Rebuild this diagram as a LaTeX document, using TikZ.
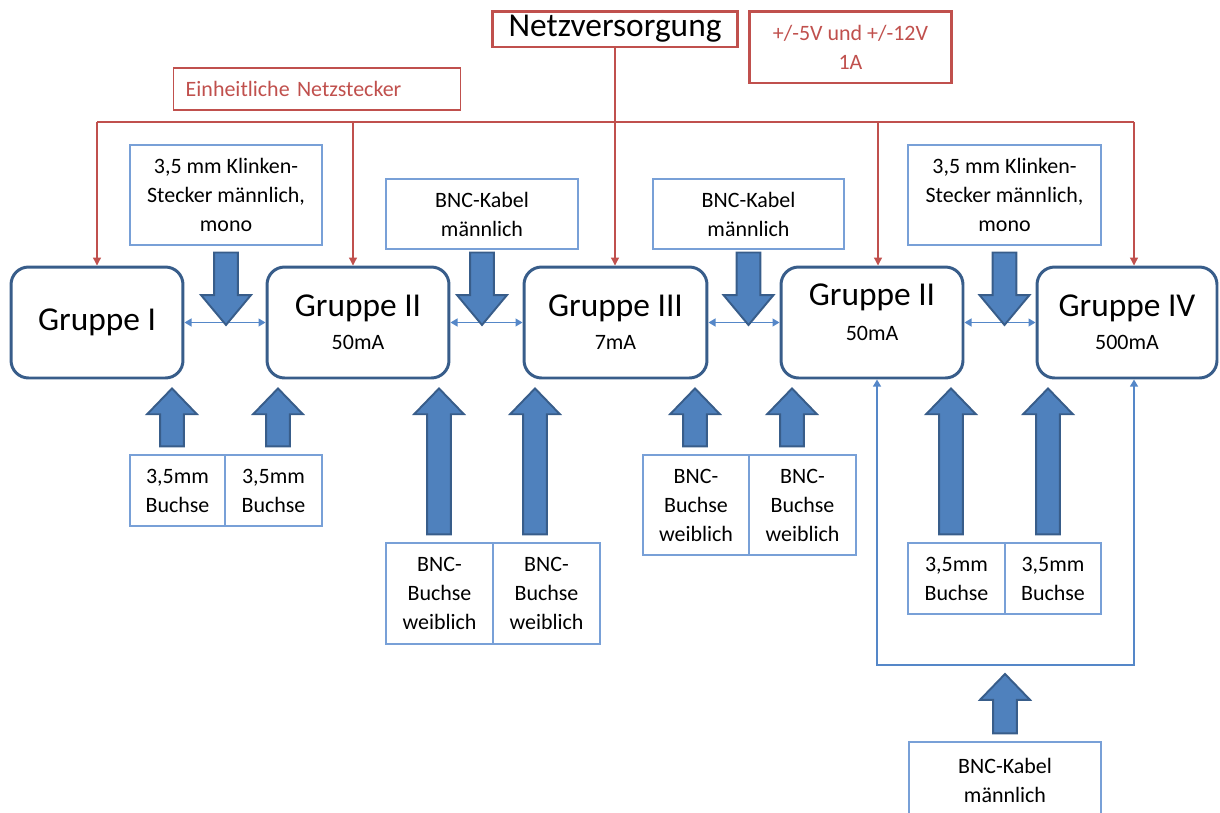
\documentclass[tikz,border=0pt]{standalone}
\usepackage{fontspec}
\setmainfont{Carlito}
\usetikzlibrary{arrows.meta,calc}

\definecolor{grpblue}{RGB}{56,93,138}
\definecolor{arrowblue}{RGB}{79,129,189}
\definecolor{boxblue}{RGB}{120,160,215}
\definecolor{lineblue}{RGB}{85,135,200}
\definecolor{netzred}{RGB}{192,80,77}

\newcommand{\bigfont}{\fontsize{19}{23}\selectfont}
\newcommand{\smallfont}{\fontsize{12.5}{16.5}\selectfont}

\tikzset{
	grp/.style = {draw = grpblue, line width = 1.7pt, rounded corners = 10pt, minimum height = 2.22cm, font = \bigfont, align = center, inner sep = 0pt},
	info/.style = {draw = boxblue, line width = 0.85pt, font = \smallfont, align = center, inner sep = 0pt},
	redbox/.style = {draw = netzred, text = netzred, font = \smallfont, inner sep = 0pt},
	redline/.style = {draw = netzred, line width = 0.7pt, >={Triangle[length = 4.5pt, width = 4.5pt]}},
	blueline/.style = {draw = lineblue, line width = 0.85pt, >={Triangle[length = 4pt, width = 4.5pt]}},
	fatarrow/.style = {fill = arrowblue, draw = grpblue, line width = 1.1pt}
}

\newcommand{\fatup}[3]{%
	\filldraw[fatarrow] let \p1 = #2, \p2 = #3, \p3 = (#1, 0) in
		(\x3 - 6.8pt, \y1 + 4.5pt) -- (\x3 - 6.8pt, \y2 - 19.8pt) -- (\x3 - 14.2pt, \y2 - 19.8pt)
		-- (\x3, \y2 - 5.1pt) -- (\x3 + 14.2pt, \y2 - 19.8pt) -- (\x3 + 6.8pt, \y2 - 19.8pt)
		-- (\x3 + 6.8pt, \y1 + 4.5pt) -- cycle;}

\newcommand{\fatdown}[2]{%
	\filldraw[fatarrow] let \p1 = (#1.south), \p2 = (#2.north), \p3 = (#2.center) in
		(\x1 - 6.8pt, \y2 + 7.4pt) -- (\x1 - 6.8pt, \y3 + 15.6pt) -- (\x1 - 14.2pt, \y3 + 15.6pt)
		-- (\x1, \y3 - 1.4pt) -- (\x1 + 14.2pt, \y3 + 15.6pt) -- (\x1 + 6.8pt, \y3 + 15.6pt)
		-- (\x1 + 6.8pt, \y2 + 7.4pt) -- cycle;}

\begin{document}
\begin{tikzpicture}[x = 0.02cm, y = -0.02cm]
		\useasboundingbox (0, 0) rectangle (1220, 812);
		\clip (0, 0) rectangle (1220, 812);
		
		\node[redbox, line width = 1.7pt, text = black, font = \bigfont, minimum width = 4.92cm, minimum height = 0.72cm] (netz) at (615, 29) {Netzversorgung};
		\node[redbox, line width = 1.7pt, align = center, minimum width = 4.06cm, minimum height = 1.44cm] (volt) at (850.5, 47) {+/-5V und +/-12V\\1A};
		\node[redbox, line width = 0.85pt, anchor = west, align = left, text width = 5.26cm, inner xsep = 0.24cm, minimum height = 0.84cm] (einh) at (173, 89) {Einheitliche Netzstecker};
		
		\node[grp, minimum width = 3.44cm] (g1) at (97, 322.5) {Gruppe I};
		\node[grp, minimum width = 3.64cm] (g2) at (358, 322.5) {Gruppe II\\[-4.3pt]{\smallfont 50mA}};
		\node[grp, minimum width = 3.66cm] (g3) at (615.5, 322.5) {Gruppe III\\[-4.3pt]{\smallfont 7mA}};
		\node[grp, minimum width = 3.64cm] (g4) at (872, 322.5) {};
		\node[font = \bigfont, align = center, inner sep = 0pt] (g4txt) at (872, 312) {Gruppe II\\[-3.2pt]{\smallfont 50mA}};
		\node[grp, minimum width = 3.6cm] (g5) at (1127, 322.5) {Gruppe IV\\[-4.3pt]{\smallfont 500mA}};
		
		\node[info, minimum width = 3.84cm, minimum height = 2cm] (k1) at (226, 195) {3,5 mm Klinken-\\Stecker männlich,\\mono};
		\node[info, minimum width = 3.84cm, minimum height = 1.4cm] (b1) at (482, 214) {BNC-Kabel\\männlich};
		\node[info, minimum width = 3.82cm, minimum height = 1.4cm] (b2) at (748.5, 214) {BNC-Kabel\\männlich};
		\node[info, minimum width = 3.86cm, minimum height = 2cm] (k2) at (1004.5, 195) {3,5 mm Klinken-\\Stecker männlich,\\mono};
		
		\node[info, minimum width = 1.9cm, minimum height = 1.42cm] (s1) at (177.5, 490.5) {3,5mm\\Buchse};
		\node[info, minimum width = 1.94cm, minimum height = 1.42cm] (s2) at (273.5, 490.5) {3,5mm\\Buchse};
		\node[info, minimum width = 2.14cm, minimum height = 2.02cm] (n1) at (439.5, 593.5) {BNC-\\Buchse\\weiblich};
		\node[info, minimum width = 2.14cm, minimum height = 2.02cm] (n2) at (546.5, 593.5) {BNC-\\Buchse\\weiblich};
		\node[info, minimum width = 2.12cm, minimum height = 2cm] (n3) at (696, 505) {BNC-\\Buchse\\weiblich};
		\node[info, minimum width = 2.14cm, minimum height = 2cm] (n4) at (802.5, 505) {BNC-\\Buchse\\weiblich};
		\node[info, minimum width = 1.94cm, minimum height = 1.42cm] (s3) at (956.5, 578.5) {3,5mm\\Buchse};
		\node[info, minimum width = 1.92cm, minimum height = 1.42cm] (s4) at (1053, 578.5) {3,5mm\\Buchse};
		\node[info, minimum width = 3.84cm, minimum height = 1.52cm] (b3) at (1005, 780) {BNC-Kabel\\männlich};
		
		\coordinate (r1) at (97, 122);
		\coordinate (r2) at (353, 122);
		\coordinate (r4) at (878, 122);
		\coordinate (r5) at (1134, 122);
		\draw[redline] (r1) -- (r5);
		\draw[redline, ->] (r1) -- (r1 |- g1.north);
		\draw[redline, ->] (r2) -- (r2 |- g2.north);
		\draw[redline, ->] (netz.south) -- (netz.south |- g3.north);
		\draw[redline, ->] (r4) -- (r4 |- g4.north);
		\draw[redline, ->] (r5) -- (r5 |- g5.north);
		
		\draw[blueline, <->] (g1.east) -- (g2.west);
		\draw[blueline, <->] (g2.east) -- (g3.west);
		\draw[blueline, <->] (g3.east) -- (g4.west);
		\draw[blueline, <->] (g4.east) -- (g5.west);
		
		\coordinate (lb) at (877, 665);
		\coordinate (rb) at (1134, 665);
		\draw[blueline, <->] (lb |- g4.south) -- (lb) -- (rb) -- (rb |- g5.south);
		
		\fatdown{k1}{g1};
		\fatdown{b1}{g2};
		\fatdown{b2}{g3};
		\fatdown{k2}{g4};
		
		\fatup{172}{(s1.north)}{(g1.south)};
		\fatup{278}{(s2.north)}{(g2.south)};
		\fatup{439}{(n1.north)}{(g2.south)};
		\fatup{535}{(n2.north)}{(g3.south)};
		\fatup{695}{(n3.north)}{(g3.south)};
		\fatup{792}{(n4.north)}{(g4.south)};
		\fatup{951}{(s3.north)}{(g4.south)};
		\fatup{1048}{(s4.north)}{(g5.south)};
		\fatup{1005}{(b3.north)}{(lb)};
	\end{tikzpicture}
\end{document}
